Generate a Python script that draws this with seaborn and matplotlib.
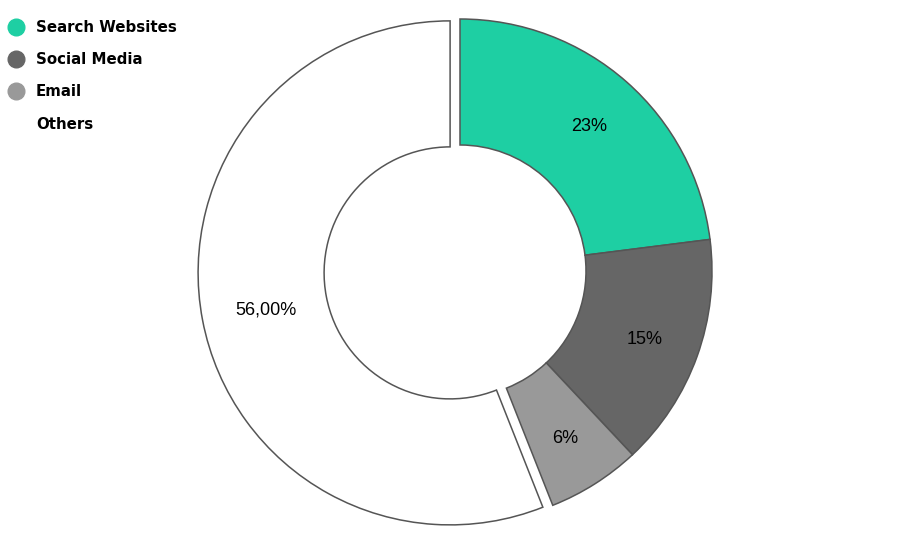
import matplotlib
matplotlib.use("Agg")
import matplotlib.pyplot as plt
from matplotlib.lines import Line2D
import numpy as np
import seaborn as sns

categories = ["Search Websites", "Social Media", "Email", "Others"]
values = [23, 15, 6, 56]
value_labels = ["23%", "15%", "6%", "56,00%"]
colors = ["#1ecfa3", "#666666", "#999999", "#ffffff"]

sns.set_theme(style="white")
plt.rcParams["font.family"] = ["Liberation Sans", "DejaVu Sans"]

fig = plt.figure(figsize=(9, 5.38), dpi=100)
ax = fig.add_axes([0, 0, 1, 1])

R = 252.0
cx, cy = 460.0, 538 - 271.0
explode = [0, 0, 0, 0.04]
label_dist = [0.775, 0.78, 0.78, 0.745]

label_iter = iter(value_labels)
wedges, texts, autotexts = ax.pie(
    values,
    colors=colors,
    startangle=90,
    counterclock=False,
    radius=1.0,
    explode=explode,
    wedgeprops=dict(width=0.5, edgecolor="#555555", linewidth=1.1),
    autopct=lambda p: next(label_iter),
    pctdistance=0.78,
    textprops=dict(fontsize=13, color="#000000"),
)

# place each label along its wedge's mid-angle at its own distance
for w, t, d, e in zip(wedges, autotexts, label_dist, explode):
    ang = np.deg2rad((w.theta1 + w.theta2) / 2)
    t.set_position(((d + e) * np.cos(ang), (d + e) * np.sin(ang)))
    t.set_verticalalignment("center_baseline")

ax.set_xlim(-cx / R, (900 - cx) / R)
ax.set_ylim(-cy / R, (538 - cy) / R)
ax.set_aspect("auto")
ax.axis("off")

handles = [
    Line2D([0], [0], marker="o", linestyle="", markersize=12,
           markerfacecolor=c, markeredgecolor=c)
    for c in colors
]
leg = fig.legend(
    handles, categories,
    loc="upper left", bbox_to_anchor=(-0.005, 0.98),
    frameon=False, handletextpad=0.6, labelspacing=1.15,
    prop=dict(family="DejaVu Sans", weight="bold", size=10.8),
    borderaxespad=0.2, handlelength=1.5,
    labelcolor="#000000",
)

fig.savefig("out.png", dpi=100)
